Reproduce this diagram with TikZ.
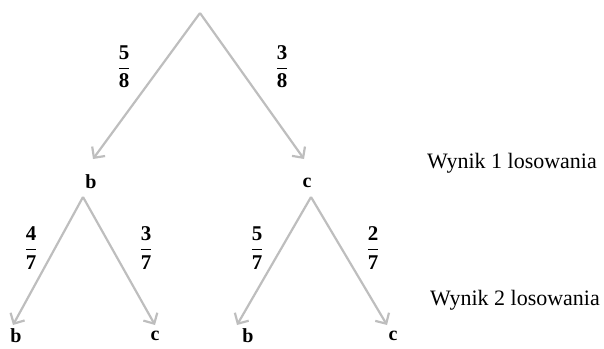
\documentclass[tikz,border=0pt]{standalone}
\usepackage{fontspec}
\usepackage{amsmath}
\setmainfont{Liberation Serif}
\usetikzlibrary{arrows.meta}
\definecolor{arrgray}{RGB}{190,190,190}
\begin{document}
\begin{tikzpicture}[x=1pt,y=-1pt,
  conn/.style={draw=arrgray,line width=2.2pt,-{Straight Barb[length=8pt,width=16pt,line width=2.2pt]}},
  letter/.style={font=\fontsize{20}{22}\selectfont\bfseries,inner sep=0pt},
  frac/.style={font=\fontsize{21}{24}\selectfont,inner sep=0pt},
  caption/.style={font=\fontsize{22}{25}\selectfont,inner sep=0pt}]
\useasboundingbox (0,0) rectangle (604,348);
\coordinate (r) at (200,13);
\coordinate (ta) at (93,159);
\coordinate (tb) at (304,159);
\node[letter] (b1) at (91,182) {b};
\node[letter] (c1) at (307,183) {c};
\coordinate (ra) at (83,197);
\coordinate (rb) at (311,197);
\coordinate (t1) at (13,325);
\coordinate (t2) at (155,325);
\coordinate (t3) at (237,325);
\coordinate (t4) at (387,325);
\node[letter] (b2) at (16,336) {b};
\node[letter] (c2) at (155,336) {c};
\node[letter] (b3) at (248,336) {b};
\node[letter] (c3) at (393,336) {c};
\draw[conn] (r) -- (ta);
\draw[conn] (r) -- (tb);
\draw[conn] (ra) -- (t1);
\draw[conn] (ra) -- (t2);
\draw[conn] (rb) -- (t3);
\draw[conn] (rb) -- (t4);
\node[frac] (f1) at (124,67) {$\dfrac{\mathbf{5}}{\mathbf{8}}$};
\node[frac] (f2) at (282,67) {$\dfrac{\mathbf{3}}{\mathbf{8}}$};
\node[frac] (f3) at (31,248) {$\dfrac{\mathbf{4}}{\mathbf{7}}$};
\node[frac] (f4) at (146,248) {$\dfrac{\mathbf{3}}{\mathbf{7}}$};
\node[frac] (f5) at (257,248) {$\dfrac{\mathbf{5}}{\mathbf{7}}$};
\node[frac] (f6) at (373,248) {$\dfrac{\mathbf{2}}{\mathbf{7}}$};
\node[caption] (w1) at (512,163) {Wynik 1 losowania};
\node[caption] (w2) at (515,300) {Wynik 2 losowania};
\end{tikzpicture}
\end{document}
